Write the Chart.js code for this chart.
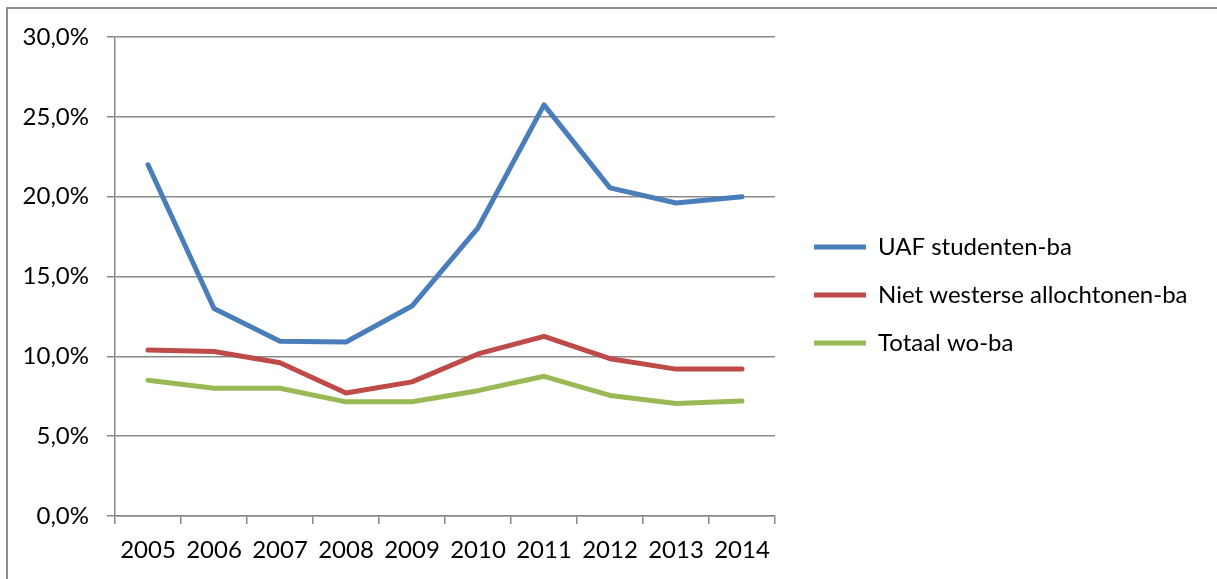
<!DOCTYPE html>
<html>
<head>
<meta charset="utf-8">
<script src="https://cdn.jsdelivr.net/npm/chart.js@4/dist/chart.umd.min.js"></script>
<style>
  html, body { margin: 0; padding: 0; background: #fff; overflow: hidden; }
  #frame {
    position: absolute; left: 6px; top: 7px; width: 1400px; height: 800px;
    border-left: 2px solid #8e8e8e; border-top: 2px solid #8e8e8e;
  }
  #wrap { position: absolute; left: 0; top: 0; width: 1217px; height: 579px; }
</style>
</head>
<body>
<div id="frame"></div>
<div id="wrap"><canvas id="chart"></canvas></div>
<script>
// data gelezen uit de grafiek (percentages)
const years = ["2005", "2006", "2007", "2008", "2009", "2010", "2011", "2012", "2013", "2014"];
const uafStudenten = [22.0, 13.0, 10.95, 10.9, 13.15, 18.05, 25.75, 20.55, 19.6, 20.0];
const nietWesters = [10.4, 10.3, 9.6, 7.7, 8.4, 10.15, 11.25, 9.85, 9.2, 9.2];
const totaalWoBa = [8.5, 8.0, 8.0, 7.15, 7.15, 7.85, 8.75, 7.55, 7.05, 7.2];
const seriesNames = ["UAF studenten-ba", "Niet westerse allochtonen-ba", "Totaal wo-ba"];
const yTickLabels = ["0,0%", "5,0%", "10,0%", "15,0%", "20,0%", "25,0%", "30,0%"];

const gridColor = "#898989";
const font = { family: "Lato", size: 24 };

// legenda rechts naast de grafiek, zoals in Excel
const legendPlacement = {
  id: "legendPlacement",
  beforeInit(chart) {
    const fit = chart.legend.fit;
    chart.legend.fit = function () {
      fit.call(this);
      this.width = 442;
    };
  },
  afterLayout(chart) {
    const lg = chart.legend;
    lg.left = chart.chartArea.right + 15;
    lg.top = 211;
  }
};

function line(label, data, color) {
  return {
    label,
    data,
    borderColor: color,
    backgroundColor: color,
    borderWidth: 5,
    borderJoinStyle: "round",
    borderCapStyle: "round",
    pointRadius: 0,
    tension: 0,
    fill: false
  };
}

new Chart(document.getElementById("chart"), {
  type: "line",
  data: {
    labels: years,
    datasets: [
      line(seriesNames[0], uafStudenten, "#4a7ebb"),
      line(seriesNames[1], nietWesters, "#be4b48"),
      line(seriesNames[2], totaalWoBa, "#98b954")
    ]
  },
  plugins: [legendPlacement],
  options: {
    responsive: true,
    maintainAspectRatio: false,
    animation: false,
    layout: { padding: { top: 37, left: 0, right: 0, bottom: 0 } },
    scales: {
      x: {
        offset: true,
        grid: {
          offset: true,
          drawOnChartArea: false,
          drawTicks: true,
          tickLength: 8,
          color: gridColor,
          lineWidth: 1.5
        },
        border: { color: gridColor, width: 1.5 },
        ticks: { color: "#000", font, padding: 12, maxRotation: 0, autoSkip: false },
        afterFit: scale => { scale.height = 63; }
      },
      y: {
        min: 0,
        max: 30,
        ticks: {
          stepSize: 5,
          color: "#000",
          font,
          padding: 18,
          callback: (value, index) => yTickLabels[index]
        },
        grid: { color: gridColor, lineWidth: 1.5, tickLength: 8, drawTicks: true },
        border: { color: gridColor, width: 1.5 },
        afterFit: scale => { scale.width = 115; }
      }
    },
    plugins: {
      tooltip: { enabled: false },
      legend: {
        position: "right",
        align: "start",
        labels: {
          usePointStyle: true,
          pointStyle: "line",
          pointStyleWidth: 52,
          padding: 24,
          color: "#000",
          font
        }
      }
    }
  }
});
</script>
</body>
</html>
